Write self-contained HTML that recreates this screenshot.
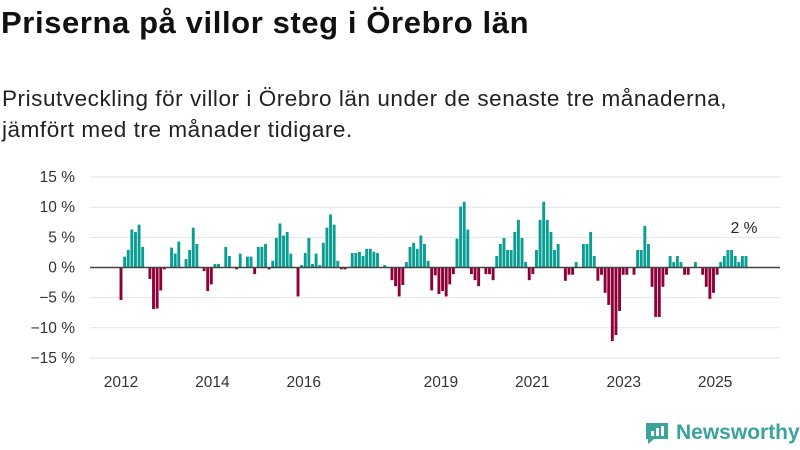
<!DOCTYPE html>
<html><head><meta charset="utf-8"><style>
body{margin:0;background:#fff;font-family:"Liberation Sans",sans-serif;}
#wrap{position:relative;width:800px;height:450px;overflow:hidden;}
h1{position:absolute;left:1px;top:5px;margin:0;font-size:31px;letter-spacing:0.6px;font-weight:bold;color:#111;}
.sub{position:absolute;left:2px;top:83px;margin:0;font-size:22.5px;letter-spacing:0.55px;line-height:31px;color:#222;}
</style></head><body>
<div id="wrap">
<h1>Priserna på villor steg i Örebro län</h1>
<p class="sub">Prisutveckling för villor i Örebro län under de senaste tre månaderna,<br>jämfört med tre månader tidigare.</p>
<svg id="chart" width="800" height="450" style="position:absolute;left:0;top:0"></svg>
</div>
<script>
const values=[-5.4,1.8,2.9,6.3,5.9,7.1,3.4,0,-1.9,-6.9,-6.8,-3.8,-0.3,0,3.3,2.3,4.3,0,1.4,2.9,6.6,3.9,0,-0.6,-3.9,-2.8,0.6,0.6,0,3.4,1.9,0,-0.3,2.3,0,1.8,1.8,-1.1,3.4,3.4,3.9,-0.3,1.1,4.9,7.3,5.3,5.9,2.3,0,-4.8,0.4,2.4,4.9,0.6,2.3,0.4,4.1,6.6,8.8,7.1,1.1,
-0.3,-0.3,0,2.4,2.4,2.6,1.9,3.1,3.1,2.6,2.4,0,0.4,0,-2.1,-3.1,-4.8,-2.9,0.9,3.4,4.1,3.1,5.3,3.9,1.1,-3.8,-1.3,-4.4,-3.9,-4.8,-2.8,-1.1,4.8,10.1,10.9,6.3,-1.1,-2.1,-3.1,0,-1.1,-1.1,-2.1,1.9,3.9,4.9,2.9,2.9,5.9,7.9,4.9,0.9,-2.1,-1.1,2.9,7.9,10.9,7.9,5.9,
2.9,3.9,0,-2.2,-1.2,-1.2,0.9,0,3.9,3.9,5.9,1.9,-2.2,-1.2,-4.2,-6.2,-12.2,-11.2,-7.2,-1.2,-1.2,0,-1.2,2.9,2.9,6.9,3.9,-3.2,-8.2,-8.2,-3.2,-1.2,1.9,0.9,1.9,0.9,-1.2,-1.2,0,0.9,0,-1.2,-3.2,-5.2,-4.2,-1.2,0.9,1.9,2.9,2.9,1.9,0.9,1.9,1.9];
const yTicks=[15,10,5,0,-5,-10,-15];
const yearLabels=[2012,2014,2016,2019,2021,2023,2025];
const lastLabel="2 %";
const NS="http://www.w3.org/2000/svg";
const svg=document.getElementById('chart');
function y(v){return 267.5-v*6.03;}
function xYear(yr){return 121+(yr-2012)*45.7;}
const xStart=121,xEnd=746;
const pitch=(xEnd-xStart)/(values.length-1);
function xi(i){return xStart+i*pitch;}
function mk(tag,attrs){const e=document.createElementNS(NS,tag);for(const k in attrs)e.setAttribute(k,attrs[k]);svg.appendChild(e);return e;}
yTicks.forEach(t=>{
 if(t!==0){const g=mk('line',{x1:90,x2:780,y1:y(t),y2:y(t),stroke:'#e2e2e2','stroke-width':1});
 
 }
 const lb=mk('text',{x:75,y:y(t)+5,'text-anchor':'end','font-size':15.5,fill:'#333','font-family':'Liberation Sans, sans-serif'});
 lb.textContent=(t<0?'−'+(-t):t)+' %';
 
 
});
values.forEach((v,i)=>{
 const w=pitch*0.8;
 const r=mk('rect',{x:xi(i)-w/2,y:Math.min(y(v),y(0)),width:w,height:Math.abs(y(v)-y(0)),fill:v>=0?'#0a9e93':'#8f0039'});
 
 
});
const z=mk('line',{x1:90,x2:780,y1:y(0),y2:y(0),stroke:'#444','stroke-width':1.5});


yearLabels.forEach(yr=>{
 const x=xYear(yr);
 const t=mk('text',{x:x,y:387,'text-anchor':'middle','font-size':15.5,fill:'#333','font-family':'Liberation Sans, sans-serif'});
 t.textContent=yr;
 
 
});
const ll=mk('text',{x:xi(values.length-1)-2,y:y(values[values.length-1])-23,'text-anchor':'middle','font-size':15.5,fill:'#222','font-family':'Liberation Sans, sans-serif'});
ll.textContent=lastLabel;


</script>
<div style="position:absolute;left:644px;top:420px;display:flex;align-items:center;">
<svg width="26" height="26" viewBox="0 0 26 26"><path d="M2 3h22v16H10l-6 5v-5H2z" fill="#3aa39a"/><rect x="7" y="11" width="3" height="5" fill="#fff"/><rect x="12" y="8" width="3" height="8" fill="#fff"/><rect x="17" y="6" width="3" height="10" fill="#fff"/></svg>
<span style="margin-left:6px;font-size:21px;font-weight:bold;color:#3aa39a;">Newsworthy</span>
</div>
</body></html>
